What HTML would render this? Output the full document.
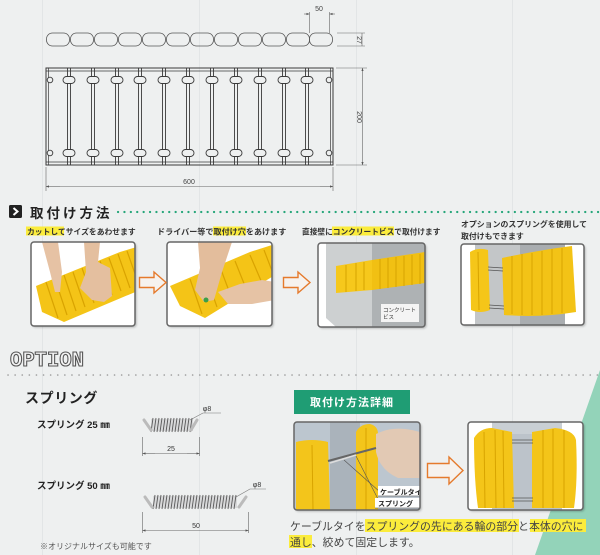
<!DOCTYPE html>
<html><head><meta charset="utf-8">
<style>
html,body{margin:0;padding:0;background:#eef0f0;}
svg{display:block;}
.jp{font-family:"Liberation Sans","Noto Sans CJK JP",sans-serif;}
</style></head>
<body>
<svg width="600" height="555" viewBox="0 0 600 555" xmlns="http://www.w3.org/2000/svg">
<defs>
  <marker id="ar" viewBox="0 0 6 6" refX="6" refY="3" markerWidth="5" markerHeight="5" orient="auto-start-reverse">
    <path d="M0,0.8 L6,3 L0,5.2 z" fill="#555"/>
  </marker>
  <filter id="sh" x="-10%" y="-10%" width="120%" height="125%">
    <feDropShadow dx="1.5" dy="1.5" stdDeviation="1" flood-color="#000" flood-opacity="0.25"/>
  </filter>
  <clipPath id="c1"><rect x="31" y="242" width="104" height="84" rx="3"/></clipPath>
  <clipPath id="c2"><rect x="167" y="242" width="105" height="84" rx="3"/></clipPath>
  <clipPath id="c3"><rect x="318" y="243" width="107" height="84" rx="3"/></clipPath>
  <clipPath id="c4"><rect x="461" y="244" width="123" height="81" rx="3"/></clipPath>
  <clipPath id="c5"><rect x="294" y="422" width="126" height="88" rx="3"/></clipPath>
  <clipPath id="c6"><rect x="468" y="422" width="115" height="88" rx="3"/></clipPath>
</defs>

<rect width="600" height="555" fill="#eef0f0"/>
<g stroke="#e2e5e6" stroke-width="1">
  <line x1="42.5" y1="0" x2="42.5" y2="555"/>
  <line x1="199.5" y1="0" x2="199.5" y2="555"/>
  <line x1="356.5" y1="0" x2="356.5" y2="555"/>
  <line x1="512.5" y1="0" x2="512.5" y2="555"/>
</g>
<polygon points="600,370 600,555 535,555" fill="#93d3b9"/>

<!-- ===== TOP DRAWING ===== -->
<g fill="none" stroke="#555" stroke-width="0.8">
  <rect x="46.5" y="33" width="23" height="13" rx="6"/>
  <rect x="70.5" y="33" width="23" height="13" rx="6"/>
  <rect x="94.5" y="33" width="23" height="13" rx="6"/>
  <rect x="118.5" y="33" width="23" height="13" rx="6"/>
  <rect x="142.5" y="33" width="23" height="13" rx="6"/>
  <rect x="166.5" y="33" width="23" height="13" rx="6"/>
  <rect x="190.5" y="33" width="23" height="13" rx="6"/>
  <rect x="214.5" y="33" width="23" height="13" rx="6"/>
  <rect x="238.5" y="33" width="23" height="13" rx="6"/>
  <rect x="262.5" y="33" width="23" height="13" rx="6"/>
  <rect x="286.5" y="33" width="23" height="13" rx="6"/>
  <rect x="309.5" y="33" width="23" height="13" rx="6"/>
</g>
<g stroke="#666" stroke-width="0.6" fill="none">
  <line x1="309.5" y1="12" x2="309.5" y2="33"/>
  <line x1="329.5" y1="12" x2="329.5" y2="33"/>
  <line x1="304" y1="14" x2="309.5" y2="14" marker-end="url(#ar)"/>
  <line x1="335" y1="14" x2="329.5" y2="14" marker-end="url(#ar)"/>
  <line x1="337" y1="33" x2="365" y2="33"/>
  <line x1="337" y1="46" x2="365" y2="46"/>
  <line x1="362" y1="33" x2="362" y2="46"/>
</g>
<text x="319" y="11" font-size="7" fill="#444" text-anchor="middle" font-family="Liberation Sans, sans-serif">50</text>
<text transform="translate(357,40) rotate(90)" font-size="7" fill="#444" text-anchor="middle" font-family="Liberation Sans, sans-serif">27</text>

<g fill="none" stroke="#3a3a3a" stroke-width="1">
  <rect x="46" y="68" width="287" height="97"/>
  <line x1="46" y1="71" x2="333" y2="71" stroke-width="0.7"/>
  <line x1="46" y1="162" x2="333" y2="162" stroke-width="0.7"/>
  <line x1="48.5" y1="68" x2="48.5" y2="165" stroke-width="0.7"/>
  <line x1="330.5" y1="68" x2="330.5" y2="165" stroke-width="0.7"/>
</g>
<g stroke="#3a3a3a" stroke-width="0.9" fill="#eef0f0">
  <g transform="translate(69,0)"><line x1="-1.5" y1="68" x2="-1.5" y2="165"/><line x1="1.5" y1="68" x2="1.5" y2="165"/><rect x="-6" y="76.5" width="12" height="7" rx="3.5"/><rect x="-6" y="149.5" width="12" height="7" rx="3.5"/></g>
  <g transform="translate(93,0)"><line x1="-1.5" y1="68" x2="-1.5" y2="165"/><line x1="1.5" y1="68" x2="1.5" y2="165"/><rect x="-6" y="76.5" width="12" height="7" rx="3.5"/><rect x="-6" y="149.5" width="12" height="7" rx="3.5"/></g>
  <g transform="translate(117,0)"><line x1="-1.5" y1="68" x2="-1.5" y2="165"/><line x1="1.5" y1="68" x2="1.5" y2="165"/><rect x="-6" y="76.5" width="12" height="7" rx="3.5"/><rect x="-6" y="149.5" width="12" height="7" rx="3.5"/></g>
  <g transform="translate(140,0)"><line x1="-1.5" y1="68" x2="-1.5" y2="165"/><line x1="1.5" y1="68" x2="1.5" y2="165"/><rect x="-6" y="76.5" width="12" height="7" rx="3.5"/><rect x="-6" y="149.5" width="12" height="7" rx="3.5"/></g>
  <g transform="translate(164,0)"><line x1="-1.5" y1="68" x2="-1.5" y2="165"/><line x1="1.5" y1="68" x2="1.5" y2="165"/><rect x="-6" y="76.5" width="12" height="7" rx="3.5"/><rect x="-6" y="149.5" width="12" height="7" rx="3.5"/></g>
  <g transform="translate(188,0)"><line x1="-1.5" y1="68" x2="-1.5" y2="165"/><line x1="1.5" y1="68" x2="1.5" y2="165"/><rect x="-6" y="76.5" width="12" height="7" rx="3.5"/><rect x="-6" y="149.5" width="12" height="7" rx="3.5"/></g>
  <g transform="translate(212,0)"><line x1="-1.5" y1="68" x2="-1.5" y2="165"/><line x1="1.5" y1="68" x2="1.5" y2="165"/><rect x="-6" y="76.5" width="12" height="7" rx="3.5"/><rect x="-6" y="149.5" width="12" height="7" rx="3.5"/></g>
  <g transform="translate(236,0)"><line x1="-1.5" y1="68" x2="-1.5" y2="165"/><line x1="1.5" y1="68" x2="1.5" y2="165"/><rect x="-6" y="76.5" width="12" height="7" rx="3.5"/><rect x="-6" y="149.5" width="12" height="7" rx="3.5"/></g>
  <g transform="translate(260,0)"><line x1="-1.5" y1="68" x2="-1.5" y2="165"/><line x1="1.5" y1="68" x2="1.5" y2="165"/><rect x="-6" y="76.5" width="12" height="7" rx="3.5"/><rect x="-6" y="149.5" width="12" height="7" rx="3.5"/></g>
  <g transform="translate(284,0)"><line x1="-1.5" y1="68" x2="-1.5" y2="165"/><line x1="1.5" y1="68" x2="1.5" y2="165"/><rect x="-6" y="76.5" width="12" height="7" rx="3.5"/><rect x="-6" y="149.5" width="12" height="7" rx="3.5"/></g>
  <g transform="translate(307,0)"><line x1="-1.5" y1="68" x2="-1.5" y2="165"/><line x1="1.5" y1="68" x2="1.5" y2="165"/><rect x="-6" y="76.5" width="12" height="7" rx="3.5"/><rect x="-6" y="149.5" width="12" height="7" rx="3.5"/></g>
  <circle cx="50" cy="80" r="2.8"/><circle cx="50" cy="153" r="2.8"/>
  <circle cx="329" cy="80" r="2.8"/><circle cx="329" cy="153" r="2.8"/>
</g>
<g stroke="#666" stroke-width="0.6" fill="none">
  <line x1="336" y1="68" x2="367" y2="68"/>
  <line x1="336" y1="165" x2="367" y2="165"/>
  <line x1="362.5" y1="80" x2="362.5" y2="68" marker-end="url(#ar)"/>
  <line x1="362.5" y1="150" x2="362.5" y2="165" marker-end="url(#ar)"/>
  <line x1="362.5" y1="80" x2="362.5" y2="150"/>
  <line x1="46" y1="167" x2="46" y2="191"/>
  <line x1="333" y1="167" x2="333" y2="191"/>
  <line x1="60" y1="186.5" x2="46" y2="186.5" marker-end="url(#ar)"/>
  <line x1="320" y1="186.5" x2="333" y2="186.5" marker-end="url(#ar)"/>
  <line x1="60" y1="186.5" x2="320" y2="186.5"/>
</g>
<text transform="translate(357,117) rotate(90)" font-size="7" fill="#444" text-anchor="middle" font-family="Liberation Sans, sans-serif">200</text>
<text x="189" y="184" font-size="7" fill="#444" text-anchor="middle" font-family="Liberation Sans, sans-serif">600</text>

<!-- ===== 取付け方法 header ===== -->
<rect x="9" y="205" width="13" height="13" rx="1.5" fill="#222"/>
<path d="M13.5,208 L17.5,211.5 L13.5,215" fill="none" stroke="#fff" stroke-width="2"/>
<text x="30" y="218" class="jp" font-size="13.5" font-weight="bold" fill="#222" letter-spacing="3">取付け方法</text>
<line x1="118" y1="212" x2="600" y2="212" stroke="#26a67a" stroke-width="2.2" stroke-linecap="round" stroke-dasharray="0.1 6.3"/>

<rect x="26" y="226.5" width="38" height="9" fill="#fbec3c"/>
<text x="27" y="234.5" class="jp" font-size="7.8" font-weight="bold" fill="#333">カットしてサイズをあわせます</text>
<rect x="213" y="226.5" width="33" height="9" fill="#fbec3c"/>
<text x="157" y="234.5" class="jp" font-size="8.1" font-weight="bold" fill="#333">ドライバー等で取付け穴をあけます</text>
<rect x="332" y="226.5" width="62" height="9" fill="#fbec3c"/>
<text x="302" y="234.5" class="jp" font-size="7.7" font-weight="bold" fill="#333">直接壁にコンクリートビスで取付けます</text>
<text x="461" y="227" class="jp" font-size="7.9" font-weight="bold" fill="#333">オプションのスプリングを使用して</text>
<text x="461" y="239" class="jp" font-size="7.9" font-weight="bold" fill="#333">取付けもできます</text>

<!-- Photo 1 -->
<g filter="url(#sh)"><rect x="31" y="242" width="104" height="84" rx="3" fill="#fff"/></g>
<g clip-path="url(#c1)">
  <polygon points="36,286 120,252 140,246 140,290 64,322 42,312" fill="#f4c417"/>
  <g stroke="#d9a300" stroke-width="1.2">
    <line x1="46" y1="282" x2="58" y2="318"/><line x1="55" y1="279" x2="67" y2="315"/>
    <line x1="64" y1="275" x2="76" y2="311"/><line x1="73" y1="272" x2="85" y2="307"/>
    <line x1="82" y1="268" x2="94" y2="303"/><line x1="91" y1="265" x2="103" y2="299"/>
    <line x1="100" y1="261" x2="112" y2="295"/><line x1="109" y1="258" x2="121" y2="291"/>
    <line x1="118" y1="254" x2="130" y2="288"/><line x1="127" y1="251" x2="139" y2="285"/>
  </g>
  <path d="M42,242 L58,242 L62,272 L60,292 L55,292 L50,272 Z" fill="#e6c2a4"/>
  <path d="M84,242 L100,242 L98,262 L110,268 L112,296 L104,302 L92,300 L80,288 L86,272 Z" fill="#e4bf9f"/>
</g>
<rect x="31" y="242" width="104" height="84" rx="3" fill="none" stroke="#666" stroke-width="1.5"/>

<!-- Photo 2 -->
<g filter="url(#sh)"><rect x="167" y="242" width="105" height="84" rx="3" fill="#fff"/></g>
<g clip-path="url(#c2)">
  <polygon points="170,286 250,252 275,244 275,275 205,318 180,306" fill="#f4c417"/>
  <g stroke="#d9a300" stroke-width="1.2">
    <line x1="190" y1="279" x2="202" y2="314"/><line x1="205" y1="273" x2="217" y2="307"/>
    <line x1="220" y1="267" x2="232" y2="299"/><line x1="235" y1="261" x2="247" y2="291"/>
    <line x1="250" y1="255" x2="262" y2="283"/><line x1="264" y1="250" x2="274" y2="276"/>
  </g>
  <path d="M198,242 L232,242 L222,272 L214,300 L204,302 L195,290 L200,268 Z" fill="#e3bd9c"/>
  <path d="M218,292 L240,284 L262,280 L275,282 L275,300 L252,304 L228,304 Z" fill="#e6c3a5"/>
  <circle cx="206" cy="300" r="2.5" fill="#3aa048"/>
</g>
<rect x="167" y="242" width="105" height="84" rx="3" fill="none" stroke="#666" stroke-width="1.5"/>

<path d="M139.5,277.5 H154 V272 L166,282.5 L154,293 V287.5 H139.5 Z" fill="#f6f2ee" stroke="#e57a2c" stroke-width="1.4"/>
<path d="M283.5,277.5 H298 V272 L310,282.5 L298,293 V287.5 H283.5 Z" fill="#f6f2ee" stroke="#e57a2c" stroke-width="1.4"/>

<!-- Photo 3 -->
<g filter="url(#sh)"><rect x="318" y="243" width="107" height="84" rx="3" fill="#fff"/></g>
<g clip-path="url(#c3)">
  <polygon points="326,243 372,243 372,327 336,327 326,318" fill="#cdd0d1"/>
  <polygon points="372,243 425,243 425,327 372,327" fill="#aeb2b4"/>
  <polygon points="336,266 372,260 372,290 336,293" fill="#f6c81c"/>
  <polygon points="372,260 425,252 425,283 372,290" fill="#f1c013"/>
  <g stroke="#d7a300" stroke-width="1">
    <line x1="380" y1="259" x2="380" y2="289"/><line x1="388" y1="258" x2="388" y2="288"/>
    <line x1="396" y1="257" x2="396" y2="287"/><line x1="404" y1="256" x2="404" y2="286"/>
    <line x1="412" y1="255" x2="412" y2="285"/><line x1="420" y1="254" x2="420" y2="284"/>
    <line x1="346" y1="265" x2="346" y2="292"/><line x1="356" y1="263" x2="356" y2="291"/>
    <line x1="364" y1="262" x2="364" y2="290"/>
  </g>
  <rect x="381" y="304" width="38" height="18" fill="#f4f4f4"/>
  <text x="383" y="312" class="jp" font-size="5.5" fill="#333">コンクリート</text>
  <text x="383" y="319" class="jp" font-size="5.5" fill="#333">ビス</text>
</g>
<rect x="318" y="243" width="107" height="84" rx="3" fill="none" stroke="#666" stroke-width="1.5"/>

<!-- Photo 4 -->
<g filter="url(#sh)"><rect x="461" y="244" width="123" height="81" rx="3" fill="#fff"/></g>
<g clip-path="url(#c4)">
  <rect x="475" y="244" width="45" height="81" fill="#c3c6c8"/>
  <rect x="520" y="244" width="45" height="81" fill="#a9adb0"/>
  <path d="M470,252 Q478,247 488,250 L490,310 Q480,314 471,310 Z" fill="#f5c619"/>
  <path d="M502,258 Q540,250 572,246 L576,312 Q540,318 504,315 Z" fill="#f3c316"/>
  <g stroke="#d8a400" stroke-width="1">
    <line x1="478" y1="252" x2="479" y2="310"/>
    <line x1="512" y1="256" x2="512" y2="314"/><line x1="522" y1="254" x2="522" y2="315"/>
    <line x1="532" y1="253" x2="532" y2="315"/><line x1="542" y1="251" x2="542" y2="315"/>
    <line x1="552" y1="249" x2="552" y2="314"/><line x1="562" y1="248" x2="562" y2="313"/>
  </g>
  <g stroke="#555" stroke-width="0.8"><line x1="488" y1="267" x2="503" y2="268"/><line x1="488" y1="270" x2="503" y2="271"/><line x1="489" y1="305" x2="504" y2="306"/><line x1="489" y1="308" x2="504" y2="309"/></g>
</g>
<rect x="461" y="244" width="123" height="81" rx="3" fill="none" stroke="#666" stroke-width="1.5"/>

<!-- ===== OPTION ===== -->
<text x="10" y="366" font-family="Liberation Mono, monospace" font-size="21" font-weight="bold" fill="#f2f2f2" stroke="#555" stroke-width="1.1" textLength="74" lengthAdjust="spacingAndGlyphs">OPTION</text>
<line x1="8" y1="375" x2="600" y2="375" stroke="#999" stroke-width="1.6" stroke-linecap="round" stroke-dasharray="0.1 7"/>

<text x="25" y="403" class="jp" font-size="14" font-weight="bold" fill="#222" letter-spacing="0.6">スプリング</text>
<text x="37" y="428" class="jp" font-size="9.5" font-weight="bold" fill="#222">スプリング 25 ㎜</text>
<text x="37" y="489" class="jp" font-size="9.5" font-weight="bold" fill="#222">スプリング 50 ㎜</text>
<text x="40" y="549" class="jp" font-size="8" fill="#555">※オリジナルサイズも可能です</text>

<!-- spring 25 -->
<g>
  <rect x="151" y="419" width="42" height="12" fill="#d8d9da"/>
  <g stroke="#5a5a5a" stroke-width="0.9">
    <line x1="151" y1="432" x2="153" y2="418"/><line x1="154" y1="432" x2="156" y2="418"/>
    <line x1="157" y1="432" x2="159" y2="418"/><line x1="160" y1="432" x2="162" y2="418"/>
    <line x1="163" y1="432" x2="165" y2="418"/><line x1="166" y1="432" x2="168" y2="418"/>
    <line x1="169" y1="432" x2="171" y2="418"/><line x1="172" y1="432" x2="174" y2="418"/>
    <line x1="175" y1="432" x2="177" y2="418"/><line x1="178" y1="432" x2="180" y2="418"/>
    <line x1="181" y1="432" x2="183" y2="418"/><line x1="184" y1="432" x2="186" y2="418"/>
    <line x1="187" y1="432" x2="189" y2="418"/><line x1="190" y1="432" x2="192" y2="418"/>
  </g>
  <line x1="144" y1="420" x2="151" y2="430" stroke="#bbb" stroke-width="3" stroke-linecap="round"/>
  <line x1="197" y1="420" x2="191" y2="430" stroke="#bbb" stroke-width="3" stroke-linecap="round"/>
  <polyline points="190,420 203,413 221,413" fill="none" stroke="#777" stroke-width="0.6"/>
  <text x="207" y="411" font-size="7" fill="#333" text-anchor="middle" font-family="Liberation Sans, sans-serif">φ8</text>
  <g stroke="#666" stroke-width="0.6">
    <line x1="142.5" y1="437" x2="142.5" y2="456"/><line x1="199.5" y1="437" x2="199.5" y2="456"/>
    <line x1="155" y1="453.5" x2="142.5" y2="453.5" marker-end="url(#ar)"/>
    <line x1="187" y1="453.5" x2="199.5" y2="453.5" marker-end="url(#ar)"/>
    <line x1="155" y1="453.5" x2="187" y2="453.5"/>
  </g>
  <text x="171" y="451" font-size="7" fill="#333" text-anchor="middle" font-family="Liberation Sans, sans-serif">25</text>
</g>

<!-- spring 50 -->
<g>
  <rect x="153" y="496" width="84" height="12" fill="#d8d9da"/>
  <g stroke="#5a5a5a" stroke-width="0.9">
    <line x1="153" y1="509" x2="155" y2="495"/><line x1="156" y1="509" x2="158" y2="495"/>
    <line x1="159" y1="509" x2="161" y2="495"/><line x1="162" y1="509" x2="164" y2="495"/>
    <line x1="165" y1="509" x2="167" y2="495"/><line x1="168" y1="509" x2="170" y2="495"/>
    <line x1="171" y1="509" x2="173" y2="495"/><line x1="174" y1="509" x2="176" y2="495"/>
    <line x1="177" y1="509" x2="179" y2="495"/><line x1="180" y1="509" x2="182" y2="495"/>
    <line x1="183" y1="509" x2="185" y2="495"/><line x1="186" y1="509" x2="188" y2="495"/>
    <line x1="189" y1="509" x2="191" y2="495"/><line x1="192" y1="509" x2="194" y2="495"/>
    <line x1="195" y1="509" x2="197" y2="495"/><line x1="198" y1="509" x2="200" y2="495"/>
    <line x1="201" y1="509" x2="203" y2="495"/><line x1="204" y1="509" x2="206" y2="495"/>
    <line x1="207" y1="509" x2="209" y2="495"/><line x1="210" y1="509" x2="212" y2="495"/>
    <line x1="213" y1="509" x2="215" y2="495"/><line x1="216" y1="509" x2="218" y2="495"/>
    <line x1="219" y1="509" x2="221" y2="495"/><line x1="222" y1="509" x2="224" y2="495"/>
    <line x1="225" y1="509" x2="227" y2="495"/><line x1="228" y1="509" x2="230" y2="495"/>
    <line x1="231" y1="509" x2="233" y2="495"/><line x1="234" y1="509" x2="236" y2="495"/>
  </g>
  <line x1="145" y1="497" x2="152" y2="507" stroke="#bbb" stroke-width="3" stroke-linecap="round"/>
  <line x1="246" y1="497" x2="239" y2="507" stroke="#bbb" stroke-width="3" stroke-linecap="round"/>
  <polyline points="236,497 250,489 266,489" fill="none" stroke="#777" stroke-width="0.6"/>
  <text x="257" y="487" font-size="7" fill="#333" text-anchor="middle" font-family="Liberation Sans, sans-serif">φ8</text>
  <g stroke="#666" stroke-width="0.6">
    <line x1="142.5" y1="512" x2="142.5" y2="533"/><line x1="248.5" y1="512" x2="248.5" y2="533"/>
    <line x1="160" y1="530.5" x2="142.5" y2="530.5" marker-end="url(#ar)"/>
    <line x1="231" y1="530.5" x2="248.5" y2="530.5" marker-end="url(#ar)"/>
    <line x1="160" y1="530.5" x2="231" y2="530.5"/>
  </g>
  <text x="196" y="528" font-size="7" fill="#333" text-anchor="middle" font-family="Liberation Sans, sans-serif">50</text>
</g>

<!-- ===== 取付け方法詳細 ===== -->
<rect x="294" y="390" width="116" height="24" fill="#1f9d74"/>
<text x="352" y="406" class="jp" font-size="11" font-weight="bold" fill="#fff" text-anchor="middle" letter-spacing="1">取付け方法詳細</text>

<!-- Photo 5 -->
<g filter="url(#sh)"><rect x="294" y="422" width="126" height="88" rx="3" fill="#bcc6cf"/></g>
<g clip-path="url(#c5)">
  <rect x="294" y="422" width="126" height="88" fill="#bcc6cf"/>
  <rect x="330" y="422" width="30" height="88" fill="#aab3bb"/>
  <path d="M296,442 Q312,438 328,442 L330,510 L296,510 Z" fill="#f3c51b"/>
  <line x1="312" y1="445" x2="313" y2="510" stroke="#d8a400" stroke-width="1"/>
  <path d="M356,432 Q360,424 370,424 Q378,426 378,434 L378,510 L356,510 Z" fill="#f3c51b"/>
  <line x1="366" y1="428" x2="366" y2="510" stroke="#d8a400" stroke-width="1"/>
  <path d="M376,434 Q392,426 412,430 L420,432 L420,478 L398,478 Q380,470 376,452 Z" fill="#e2c9b4"/>
  <line x1="328" y1="461" x2="376" y2="448" stroke="#666" stroke-width="2"/>
  <line x1="330" y1="463" x2="356" y2="455" stroke="#ddd" stroke-width="1.5"/>
  <line x1="344" y1="460" x2="380" y2="492" stroke="#555" stroke-width="0.6"/>
  <line x1="356" y1="456" x2="380" y2="503" stroke="#555" stroke-width="0.6"/>
  <rect x="378" y="486" width="42" height="10" fill="#fff"/>
  <rect x="375" y="498" width="45" height="10" fill="#fff"/>
  <text x="380" y="494.5" class="jp" font-size="7" font-weight="bold" fill="#222">ケーブルタイ</text>
  <text x="378" y="506" class="jp" font-size="7" font-weight="bold" fill="#222">スプリング</text>
  <line x1="378" y1="496" x2="420" y2="496" stroke="#333" stroke-width="0.6"/>
  <line x1="375" y1="508" x2="420" y2="508" stroke="#333" stroke-width="0.6"/>
</g>
<rect x="294" y="422" width="126" height="88" rx="3" fill="none" stroke="#666" stroke-width="1.5"/>

<path d="M427.5,463.5 H449 V457 L463,470.5 L449,484 V477.5 H427.5 Z" fill="#f6f2ee" stroke="#e57a2c" stroke-width="1.4"/>

<!-- Photo 6 -->
<g filter="url(#sh)"><rect x="468" y="422" width="115" height="88" rx="3" fill="#fff"/></g>
<g clip-path="url(#c6)">
  <rect x="492" y="422" width="70" height="88" fill="#bcc3ca"/>
  <rect x="492" y="422" width="70" height="12" fill="#c9cfd4"/>
  <path d="M474,438 Q480,428 492,428 L512,432 L514,508 L478,508 Q474,480 474,438 Z" fill="#f4c519"/>
  <path d="M532,432 L555,428 Q574,430 576,440 Q578,480 574,508 L532,508 Z" fill="#f4c519"/>
  <g stroke="#d8a400" stroke-width="1">
    <line x1="484" y1="432" x2="485" y2="508"/><line x1="495" y1="430" x2="496" y2="508"/>
    <line x1="503" y1="431" x2="504" y2="508"/>
    <line x1="543" y1="430" x2="543" y2="508"/><line x1="553" y1="429" x2="553" y2="508"/>
    <line x1="564" y1="430" x2="564" y2="508"/>
  </g>
  <g stroke="#555" stroke-width="0.8"><line x1="512" y1="440" x2="533" y2="440"/><line x1="512" y1="443" x2="533" y2="443"/><line x1="512" y1="498" x2="533" y2="498"/><line x1="512" y1="501" x2="533" y2="501"/></g>
</g>
<rect x="468" y="422" width="115" height="88" rx="3" fill="none" stroke="#666" stroke-width="1.5"/>

<rect x="365" y="519" width="154" height="13" fill="#fbec3c"/>
<rect x="530" y="519" width="56" height="13" fill="#fbec3c"/>
<rect x="289" y="535" width="23" height="13" fill="#fbec3c"/>
<text x="290" y="530" class="jp" font-size="10.9" fill="#444">ケーブルタイをスプリングの先にある輪の部分と本体の穴に</text>
<text x="290" y="546" class="jp" font-size="10.9" fill="#444">通し、絞めて固定します。</text>
</svg>
</body></html>
